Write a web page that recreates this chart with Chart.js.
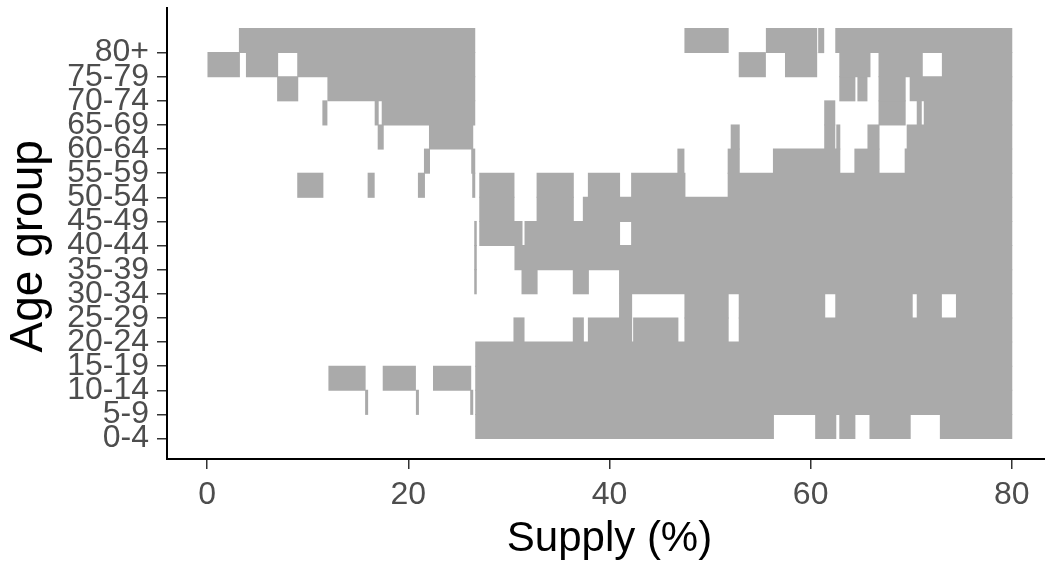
<!DOCTYPE html>
<html>
<head>
<meta charset="utf-8">
<script src="https://cdn.jsdelivr.net/npm/chart.js@4"></script>
<style>
  html, body { margin: 0; padding: 0; background: #fff; overflow: hidden; }
  #wrap { width: 1052px; height: 563px; position: relative; }
</style>
</head>
<body>
<div id="wrap"><canvas id="tiles"></canvas></div>
<script>
// age groups, bottom to top
const ageGroups = ["0-4", "5-9", "10-14", "15-19", "20-24", "25-29", "30-34", "35-39",
  "40-44", "45-49", "50-54", "55-59", "60-64", "65-69", "70-74", "75-79", "80+"];

const xTicks = [0, 20, 40, 60, 80];

// covered supply ranges (%) for each age group, same order as ageGroups
const covered = [
  [[26.7, 56.3], [60.5, 62.5], [62.9, 64.4], [65.9, 69.9], [72.9, 80]],
  [[15.75, 15.95], [20.8, 21.0], [26.2, 26.4], [26.7, 80]],
  [[12.1, 15.7], [17.5, 20.7], [22.5, 26.2], [26.7, 80]],
  [[26.7, 80]],
  [[30.5, 31.5], [36.4, 37.4], [37.9, 42.2], [42.4, 46.8], [47.5, 51.8], [52.9, 80]],
  [[41.0, 42.2], [47.5, 51.8], [52.9, 61.4], [62.5, 70.1], [70.6, 73.0], [74.5, 80]],
  [[26.6, 26.75], [31.3, 32.8], [36.4, 37.9], [41.0, 80]],
  [[26.6, 26.75], [30.6, 80]],
  [[26.6, 26.75], [27.1, 31.3], [31.6, 41.0], [42.2, 80]],
  [[27.1, 30.5], [32.8, 36.4], [37.4, 80]],
  [[9.0, 11.5], [16.0, 16.6], [21.0, 21.6], [26.4, 26.6], [27.1, 30.5], [32.8, 36.4], [37.9, 41.0], [42.2, 47.5], [51.8, 80]],
  [[21.6, 22.1], [26.3, 26.6], [46.8, 47.4], [51.8, 52.9], [56.3, 62.9], [64.4, 66.8], [69.4, 80]],
  [[17.0, 17.5], [22.1, 26.4], [52.1, 52.9], [61.4, 62.4], [62.6, 62.9], [65.7, 66.8], [69.6, 80]],
  [[11.5, 11.9], [16.7, 17.0], [17.4, 26.6], [61.4, 62.4], [66.8, 69.4], [70.6, 71.0], [71.3, 80]],
  [[7.0, 9.0], [12.0, 26.6], [62.9, 64.4], [64.7, 65.6], [66.8, 69.4], [69.9, 80]],
  [[0, 3.2], [3.9, 7.0], [9.0, 26.6], [52.9, 55.5], [57.5, 60.6], [62.9, 65.9], [66.8, 71.1], [73.1, 80]],
  [[3.2, 26.6], [47.5, 51.8], [55.6, 60.6], [60.8, 61.3], [62.5, 80]]
];

// each tile sits between its age group's tick and the next one up
const tiles = [];
covered.forEach((ranges, i) => {
  ranges.forEach(r => tiles.push({ x: r, y: i + 0.5 }));
});

const tickFont = { family: "'Liberation Sans', Arial, sans-serif", size: 32 };

new Chart("tiles", {
  type: "bar",
  data: {
    datasets: [{
      data: tiles,
      backgroundColor: "#aaaaaa",
      borderWidth: 0,
      barPercentage: 1,
      categoryPercentage: 1,
      inflateAmount: 0.5
    }]
  },
  options: {
    indexAxis: "y",
    responsive: true,
    maintainAspectRatio: false,
    animation: false,
    layout: { padding: { top: 8, left: 0, right: 0, bottom: 0 } },
    plugins: { legend: false, tooltip: false, title: false },
    scales: {
      x: {
        type: "linear",
        min: -4,
        max: 84,
        offset: false,
        afterFit: s => { s.height = 104; s.paddingLeft = 0; s.paddingRight = 0; },
        afterBuildTicks: s => { s.ticks = xTicks.map(v => ({ value: v })); },
        ticks: { font: tickFont, color: "#4d4d4d", padding: 7, autoSkip: false, maxRotation: 0 },
        grid: { drawOnChartArea: false, offset: false, tickLength: 10, color: "#333", lineWidth: 1.5 },
        border: { display: true, color: "#000", width: 2 },
        title: {
          display: true, text: "Supply (%)", color: "#000", padding: { top: 0, bottom: 0 },
          font: { family: "'Liberation Sans', Arial, sans-serif", size: 42, lineHeight: 1.1 }
        }
      },
      y: {
        type: "linear",
        min: -0.85,
        max: 17.85,
        offset: false,
        afterFit: s => { s.width = 167; s.paddingTop = 0; s.paddingBottom = 0; },
        afterBuildTicks: s => { s.ticks = ageGroups.map((g, i) => ({ value: i })); },
        ticks: {
          font: tickFont, color: "#4d4d4d", padding: 8, autoSkip: false,
          callback: v => ageGroups[v]
        },
        grid: { drawOnChartArea: false, offset: false, tickLength: 10, color: "#333", lineWidth: 1.5 },
        border: { display: true, color: "#000", width: 2 },
        title: {
          // trailing spaces nudge the rotated title a bit lower, like the original
          display: true, text: "Age group  ", color: "#000", padding: { top: 4, bottom: 0 },
          font: { family: "'Liberation Sans', Arial, sans-serif", size: 46, lineHeight: 1.1 }
        }
      }
    }
  }
});
</script>
</body>
</html>
